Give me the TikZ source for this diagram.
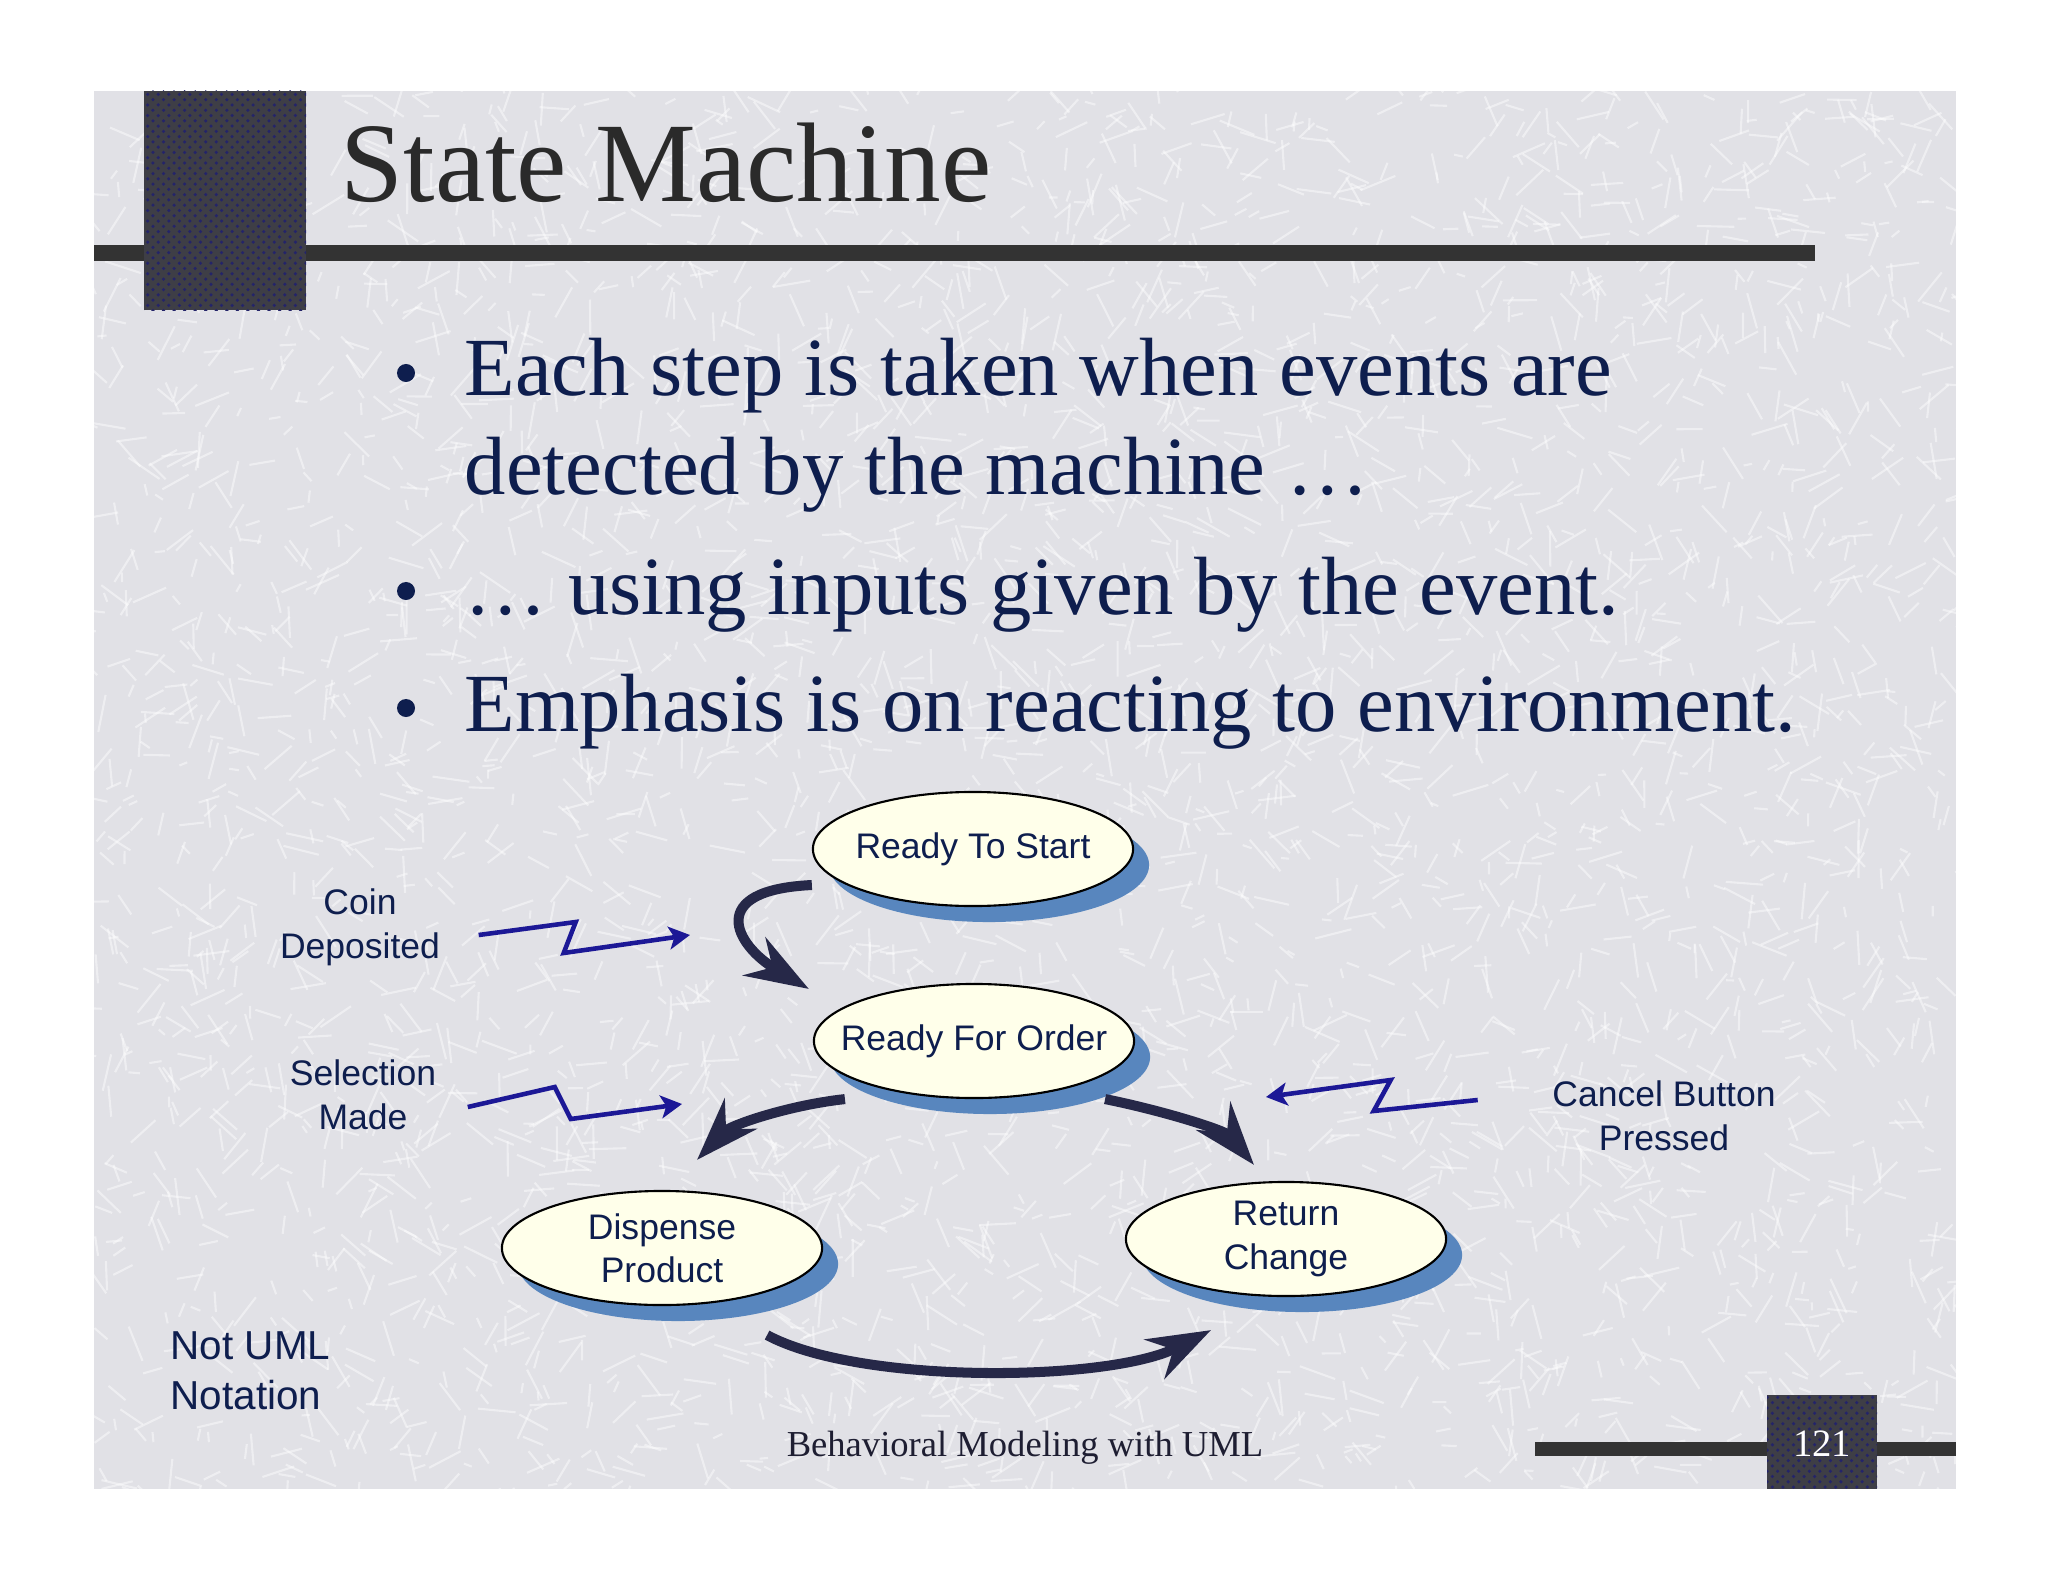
\documentclass[tikz,border=0pt]{standalone}
\usepackage{fontspec}
\setmainfont{Liberation Serif}
\setsansfont{Liberation Sans}
\usepackage{tikz}
\usetikzlibrary{arrows.meta,shapes.geometric,shadows,patterns}
\definecolor{slidegray}{RGB}{225,225,230}
\definecolor{barblack}{RGB}{51,51,51}
\definecolor{squaregray}{RGB}{62,62,70}
\definecolor{squaredot}{RGB}{36,36,105}
\definecolor{titlegray}{RGB}{42,42,42}
\definecolor{textnavy}{RGB}{14,30,78}
\definecolor{footergray}{RGB}{30,30,50}
\definecolor{statefill}{RGB}{255,255,234}
\definecolor{stateshadow}{RGB}{88,134,190}
\definecolor{transnavy}{RGB}{38,40,72}
\definecolor{boltblue}{RGB}{28,24,150}
\tikzset{
  stateel/.style={ellipse, draw=black, line width=0.6pt, fill=statefill,
                  minimum width=3.2cm, minimum height=1.14cm, inner sep=-1cm,
                  align=center, text=textnavy,
                  font=\sffamily\fontsize{10.1}{12.3}\selectfont,
                  drop shadow={shadow xshift=0.16cm, shadow yshift=-0.16cm,
                               fill=stateshadow, opacity=1}},
  trans/.style={-{Stealth[length=18pt,width=12.5pt,inset=6pt]},
                line width=2.85pt, transnavy},
  bolt/.style={-{Stealth[length=6pt,width=6.5pt,inset=1.5pt]},
               line width=1.3pt, boltblue, line join=miter},
  evlabel/.style={align=center, inner sep=0pt, text=textnavy,
                  font=\sffamily\fontsize{10.1}{12.6}\selectfont},
  bullettext/.style={anchor=base west, inner sep=0pt, text=textnavy,
                     font=\fontsize{23.5}{28}\selectfont},
  bulletdot/.style={circle, fill=textnavy, minimum size=0.18cm, inner sep=0pt},
}

\begin{document}
\begin{tikzpicture}[x=0.01cm, y=-0.01cm]
  \useasboundingbox (0,0) rectangle (2048,1582);
  % Page and slide background
  \fill[white] (0,0) rectangle (2048,1582);
  \fill[slidegray] (94,91) rectangle (1956,1489);
  % Scratch texture
  \begin{scope}
    \clip (94,91) rectangle (1956,1489);
    \pgfmathsetseed{42}
    \foreach \i in {1,...,4000} {
      \pgfmathsetmacro{\sx}{94+1862*rnd}
      \pgfmathsetmacro{\sy}{91+1398*rnd}
      \pgfmathsetmacro{\sa}{360*rnd}
      \pgfmathsetmacro{\sl}{8+30*rnd}
      \draw[white, opacity=0.45, line width=0.6pt] (\sx,\sy) -- ++(\sa:\sl);
    }
  \end{scope}
  % Title bar and square
  \fill[barblack] (94,245) rectangle (1815,261);
  \fill[squaregray] (144,91) rectangle (306,310);
  \fill[pattern=crosshatch dots, pattern color=squaredot] (144,91) rectangle (306,310);
  \node[anchor=base west, inner sep=0pt, text=titlegray,
        font=\fontsize{32.2}{36}\selectfont] (title) at (340,202) {State Machine};
  % Bullets
  \node[bulletdot] (dot1) at (406,373) {};
  \node[bullettext] (b1) at (464,396) {Each step is taken when events are};
  \node[bullettext] (b1b) at (464,494) {detected by the machine …};
  \node[bulletdot] (dot2) at (406,591) {};
  \node[bullettext] (b2) at (464,614) {… using inputs given by the event.};
  \node[bulletdot] (dot3) at (406,708) {};
  \node[bullettext] (b3) at (464,731) {Emphasis is on reacting to environment.};
  % States
  \node[stateel] (rts) at (973,849) {Ready To Start};
  \node[stateel] (rfo) at (974,1041) {Ready For Order};
  \node[stateel] (dp) at (662,1248) {Dispense\\Product};
  \node[stateel] (rc) at (1286,1239) {Return\\Change};
  % Transitions
  \draw[trans] ([yshift=-0.36cm]rts.west) .. controls (705,890) and (735,945) .. ([xshift=-0.04cm,yshift=0.52cm]rfo.west);
  \draw[trans] ([xshift=-1.29cm]rfo.south) .. controls (790,1105) and (730,1125) .. ([xshift=0.35cm,yshift=0.30cm]dp.north);
  \draw[trans] ([xshift=1.31cm]rfo.south) .. controls (1160,1110) and (1225,1130) .. ([xshift=-0.32cm,yshift=0.16cm]rc.north);
  \draw[trans] ([xshift=1.05cm,yshift=-0.29cm]dp.south) .. controls (860,1385) and (1110,1382) .. ([xshift=-0.75cm,yshift=-0.33cm]rc.south);
  % Events
  \node[evlabel] (coin) at (360,927) {Coin\\Deposited};
  \node[evlabel] (sel) at (363,1095) {Selection\\Made};
  \node[evlabel] (cancel) at (1664,1116) {Cancel Button\\Pressed};
  \coordinate (coinhit) at (690,935);
  \coordinate (selhit) at (682,1104);
  \coordinate (cancelhit) at (1266,1097);
  \draw[bolt] ([xshift=0.38cm,yshift=-0.08cm]coin.east) -- ++(97,-13) -- ++(-12,31) -- (coinhit);
  \draw[bolt] ([xshift=0.31cm,yshift=-0.12cm]sel.east) -- ++(87,-20) -- ++(16,32) -- (selhit);
  \draw[bolt] ([xshift=-0.74cm,yshift=0.16cm]cancel.west) -- ++(-104,11) -- ++(17,-31) -- (cancelhit);
  % Note
  \node[anchor=west, align=left, inner sep=0pt, text=textnavy,
        font=\sffamily\fontsize{11.5}{14.1}\selectfont] (notuml) at (170,1371) {Not UML\\Notation};
  % Footer
  \fill[barblack] (1535,1442) rectangle (1956,1456);
  \fill[squaregray] (1767,1395) rectangle (1877,1489);
  \fill[pattern=crosshatch dots, pattern color=squaredot] (1767,1395) rectangle (1877,1489);
  \node[anchor=base, inner sep=0pt, text=footergray,
        font=\fontsize{10.4}{12}\selectfont] (footer) at (1025,1456) {Behavioral Modeling with UML};
  \node[anchor=base, inner sep=0pt, text=white,
        font=\fontsize{11}{12}\selectfont] (pgnum) at (1822,1456) {121};
\end{tikzpicture}
\end{document}
